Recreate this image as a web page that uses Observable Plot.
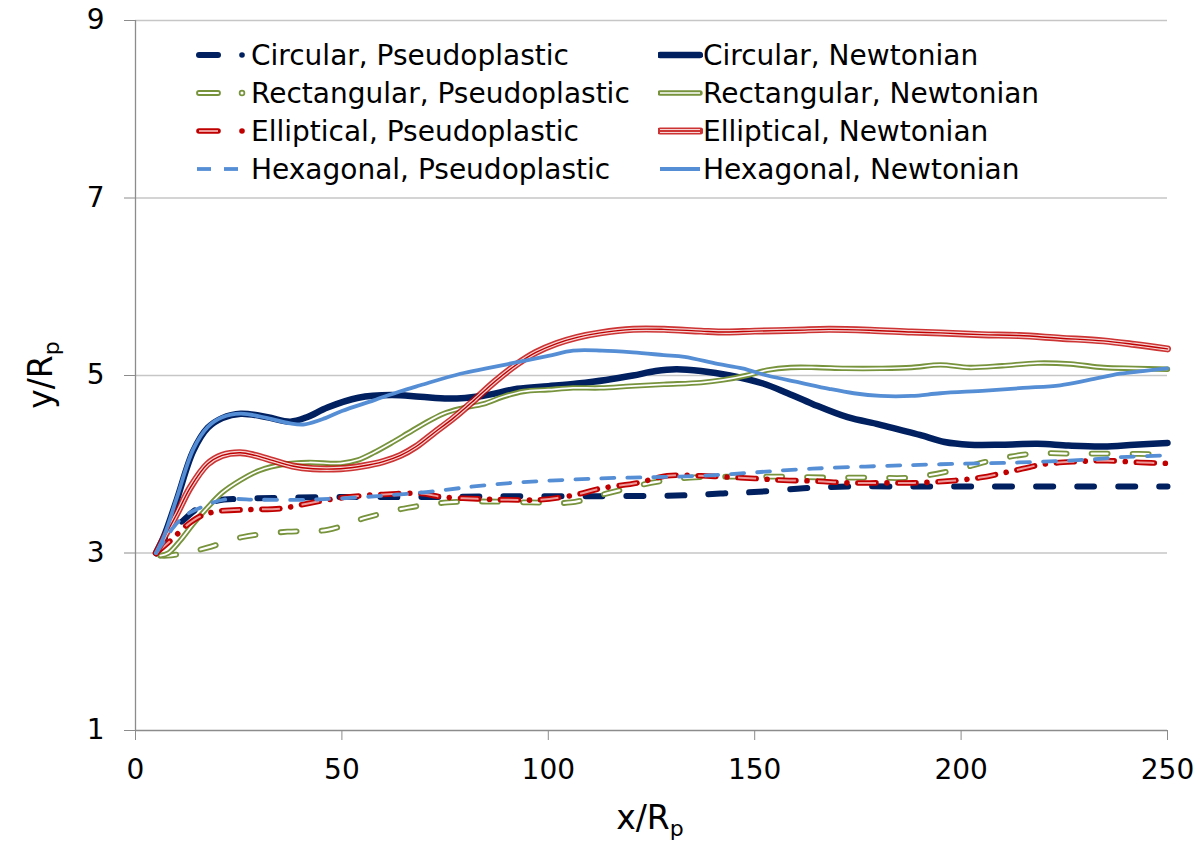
<!DOCTYPE html>
<html>
<head>
<meta charset="utf-8">
<script src="https://cdn.jsdelivr.net/npm/d3@7"></script>
<script src="https://cdn.jsdelivr.net/npm/@observablehq/plot@0.6"></script>
<style>
  html, body { margin: 0; padding: 0; background: #fff; }
  #wrap { position: relative; width: 1196px; height: 860px; font-family: "DejaVu Sans", Verdana, sans-serif; color: #000; }
  #chart svg { display: block; }
  .title { position: absolute; font-size: 33px; white-space: nowrap; }
  .title sub { font-size: 22px; vertical-align: -7px; line-height: 0; }
  #xtitle { left: 0; width: 1300px; top: 798px; text-align: center; }
  #ytitle { left: 40px; top: 375px; transform: translate(-50%, -50%) rotate(-90deg); }
  .lrow { position: absolute; height: 38px; display: flex; align-items: center; font-size: 28px; white-space: nowrap; }
  .lrow svg { flex: none; }
</style>
</head>
<body>
<div id="wrap">
  <div id="chart"></div>
  <div class="title" id="xtitle">x/R<sub>p</sub></div>
  <div class="title" id="ytitle">y/R<sub>p</sub></div>
  <div id="legendBox"></div>
</div>
<script>
// ---------- data ----------
const xTicks = [0, 50, 100, 150, 200, 250];
const yTicks = [1, 3, 5, 7, 9];
const yGrid = [3, 5, 7, 9];

const seriesNames = [
  "Circular, Pseudoplastic", "Circular, Newtonian",
  "Rectangular, Pseudoplastic", "Rectangular, Newtonian",
  "Elliptical, Pseudoplastic", "Elliptical, Newtonian",
  "Hexagonal, Pseudoplastic", "Hexagonal, Newtonian"
];

const xCircP = [5, 8, 11.6, 15, 19.9, 25, 33.4, 50, 69, 90, 112.6, 133, 141.7, 151, 161.8, 172.5, 185, 195, 210, 230, 250];
const yCircP = [3.0, 3.22, 3.37, 3.5, 3.59, 3.61, 3.62, 3.63, 3.63, 3.64, 3.64, 3.65, 3.67, 3.69, 3.73, 3.75, 3.75, 3.75, 3.75, 3.75, 3.75];

const xCircN = [5, 7, 10, 14, 17.5, 21, 25.5, 32, 37.5, 41.5, 46.5, 54, 62, 69, 76, 84, 92.5, 100, 107, 114, 120.5, 126, 131, 137, 144, 152, 158, 164, 172.5, 180, 185, 190, 196, 202, 210, 218.5, 226, 234.5, 242, 250];
const yCircN = [3.0, 3.2, 3.6, 4.15, 4.41, 4.52, 4.57, 4.53, 4.48, 4.53, 4.64, 4.75, 4.78, 4.76, 4.74, 4.77, 4.85, 4.88, 4.91, 4.95, 5.0, 5.05, 5.07, 5.05, 5.0, 4.91, 4.8, 4.68, 4.53, 4.45, 4.39, 4.33, 4.25, 4.22, 4.22, 4.23, 4.21, 4.2, 4.22, 4.24];

const xRectP = [6, 7.7, 12, 17.4, 26, 36.8, 46.5, 56, 66, 75.6, 85.3, 95.7, 105.4, 115, 124.8, 134.4, 148, 158, 167.6, 178, 187.7, 198, 208, 217.5, 227, 238, 250];
const yRectP = [2.97, 2.97, 3.0, 3.06, 3.18, 3.24, 3.26, 3.4, 3.51, 3.57, 3.58, 3.57, 3.57, 3.68, 3.79, 3.85, 3.86, 3.86, 3.85, 3.85, 3.85, 3.93, 4.05, 4.12, 4.12, 4.12, 4.11];

const xRectN = [6, 8, 11, 14, 17.4, 21, 25.4, 30, 35.9, 42, 49.7, 54, 57.7, 62, 66, 70, 74.6, 79, 84.3, 89, 94, 100, 106, 112.6, 120, 128, 137, 142.4, 148, 153, 158.7, 165, 172, 180.5, 188, 195, 202, 210, 218.5, 226.5, 234.5, 242, 250];
const yRectN = [2.97, 3.0, 3.15, 3.33, 3.51, 3.68, 3.82, 3.93, 4.0, 4.02, 4.01, 4.05, 4.13, 4.24, 4.35, 4.46, 4.57, 4.63, 4.68, 4.76, 4.82, 4.84, 4.86, 4.86, 4.88, 4.9, 4.92, 4.95, 5.0, 5.06, 5.09, 5.09, 5.08, 5.08, 5.09, 5.12, 5.09, 5.11, 5.14, 5.13, 5.09, 5.08, 5.07];

const xEllP = [5, 8.5, 12.6, 16, 19.9, 27.9, 35, 43, 51.3, 60, 69, 74.6, 82.8, 90, 98, 106, 113, 121.6, 128.8, 137, 141.7, 150, 157, 165, 172.5, 180.5, 188.5, 196.7, 204.7, 212, 220, 228, 235.5, 243.5, 250];
const yEllP = [3.0, 3.14, 3.32, 3.42, 3.47, 3.49, 3.5, 3.57, 3.63, 3.66, 3.67, 3.63, 3.61, 3.6, 3.6, 3.65, 3.73, 3.79, 3.87, 3.87, 3.86, 3.84, 3.82, 3.81, 3.79, 3.79, 3.79, 3.81, 3.85, 3.92, 4.0, 4.03, 4.04, 4.02, 4.01];

const xEllN = [5, 7, 10, 13.3, 17.4, 21, 25.4, 29, 33.4, 38, 43, 49.7, 55, 60, 64.2, 68, 72.2, 77, 82, 87, 92.5, 97, 102, 107, 112.6, 120.6, 128, 137, 143, 150, 160, 168, 178, 188, 195, 205, 214, 224, 234.5, 242, 250];
const yEllN = [3.0, 3.18, 3.44, 3.74, 4.0, 4.1, 4.13, 4.1, 4.04, 3.98, 3.95, 3.95, 3.98, 4.03, 4.1, 4.2, 4.35, 4.52, 4.72, 4.93, 5.13, 5.26, 5.36, 5.43, 5.48, 5.52, 5.52, 5.5, 5.49, 5.5, 5.51, 5.52, 5.51, 5.49, 5.48, 5.46, 5.45, 5.42, 5.39, 5.35, 5.3];

const xHexP = [5, 7, 9.2, 12, 15.7, 21.3, 30, 41.7, 55, 69, 88.4, 112.6, 137, 164, 195, 214, 230, 238.6, 250];
const yHexP = [3.0, 3.14, 3.29, 3.42, 3.51, 3.6, 3.6, 3.6, 3.63, 3.68, 3.78, 3.84, 3.87, 3.95, 4.0, 4.02, 4.05, 4.08, 4.1];

const xHexN = [5, 7, 10, 14, 17.5, 21, 25.5, 32, 37.5, 41, 46, 50, 57.7, 64, 69, 78.7, 85, 92.5, 100, 106, 113, 120.5, 128, 133, 141, 147, 153, 161, 168, 174, 180.5, 188, 195, 206, 215, 224, 231, 238.5, 244, 250];
const yHexN = [3.0, 3.2, 3.62, 4.17, 4.42, 4.53, 4.57, 4.52, 4.46, 4.45, 4.52, 4.6, 4.72, 4.82, 4.89, 5.02, 5.08, 5.15, 5.22, 5.28, 5.28, 5.26, 5.23, 5.21, 5.13, 5.08, 5.0, 4.92, 4.85, 4.8, 4.77, 4.77, 4.8, 4.83, 4.86, 4.89, 4.95, 5.02, 5.05, 5.08];

// ---------- styles ----------
const NAVY = "#002060", GREEN = "#77933C", RED = "#C00000", PINK = "#EE9A9A", BLUE = "#558ED5";

const rows = (xs, ys) => xs.map((x, i) => ({x, y: ys[i]}));

const seriesDefs = [
  {data: rows(xCircP, yCircP), layers: [{stroke: NAVY, strokeWidth: 6, strokeDasharray: "17,24", strokeLinecap: "round"}]},
  {data: rows(xCircN, yCircN), layers: [{stroke: NAVY, strokeWidth: 6.5}]},
  {data: rows(xRectP, yRectP), layers: [
    {stroke: GREEN, strokeWidth: 5.8, strokeDasharray: "16,25", strokeLinecap: "round"},
    {stroke: "#fff", strokeWidth: 2.2, strokeDasharray: "16,25", strokeLinecap: "round"}]},
  {data: rows(xRectN, yRectN), layers: [
    {stroke: GREEN, strokeWidth: 5.4},
    {stroke: "#fff", strokeWidth: 1.7}]},
  {data: rows(xEllP, yEllP), layers: [
    {stroke: RED, strokeWidth: 5.6, strokeDasharray: "18,11,0.01,11", strokeLinecap: "round"},
    {stroke: PINK, strokeWidth: 2, strokeDasharray: "18,22.01", strokeLinecap: "butt"}]},
  {data: rows(xEllN, yEllN), layers: [
    {stroke: RED, strokeWidth: 7, strokeOpacity: 0.8},
    {stroke: "#fff", strokeWidth: 3.8, strokeOpacity: 0.8},
    {stroke: RED, strokeWidth: 1.4}]},
  {data: rows(xHexP, yHexP), layers: [{stroke: BLUE, strokeWidth: 3.8, strokeDasharray: "13,13"}]},
  {data: rows(xHexN, yHexN), layers: [{stroke: BLUE, strokeWidth: 3.8}]}
];

const lineMarks = [];
for (const s of seriesDefs) {
  for (const L of s.layers) {
    lineMarks.push(Plot.line(s.data, {x: "x", y: "y", curve: "catmull-rom", strokeLinejoin: "round", ...L}));
  }
}

const AX = "#8c8c8c";
const chart = Plot.plot({
  width: 1196,
  height: 860,
  marginLeft: 135,
  marginRight: 29,
  marginTop: 20,
  marginBottom: 130,
  style: {fontFamily: "'DejaVu Sans', Verdana, sans-serif", fontSize: "28px", color: "#000", background: "#fff"},
  x: {domain: [0, 250]},
  y: {domain: [1, 9]},
  marks: [
    Plot.ruleY(yGrid, {stroke: "#c6c6c6", strokeWidth: 1.3}),
    Plot.ruleX([0], {stroke: AX, strokeWidth: 1.3}),
    Plot.ruleY([1], {stroke: AX, strokeWidth: 1.3}),
    Plot.axisX({ticks: xTicks, tickSize: 10, tickPadding: 19, stroke: AX, label: null, tickFormat: d => String(d)}),
    Plot.axisY({ticks: yTicks, tickSize: 11, tickPadding: 20, stroke: AX, label: null, tickFormat: d => String(d)}),
    ...lineMarks
  ]
});
document.getElementById("chart").appendChild(chart);

// ---------- legend ----------
const SVGNS = "http://www.w3.org/2000/svg";
function sampleSvg(kind, w) {
  const svg = document.createElementNS(SVGNS, "svg");
  svg.setAttribute("width", w); svg.setAttribute("height", 20);
  const add = (tag, attrs) => { const e = document.createElementNS(SVGNS, tag); for (const k in attrs) e.setAttribute(k, attrs[k]); svg.appendChild(e); };
  const y = 10;
  switch (kind) {
    case 0: add("line", {x1: 5, x2: 24, y1: y, y2: y, stroke: NAVY, "stroke-width": 6, "stroke-linecap": "round"});
            add("circle", {cx: 48, cy: y, r: 2.8, fill: NAVY}); break;
    case 2: add("line", {x1: 5, x2: 24, y1: y, y2: y, stroke: GREEN, "stroke-width": 5.8, "stroke-linecap": "round"});
            add("line", {x1: 5, x2: 24, y1: y, y2: y, stroke: "#fff", "stroke-width": 2.2, "stroke-linecap": "round"});
            add("circle", {cx: 48, cy: y, r: 2.4, fill: "#fff", stroke: GREEN, "stroke-width": 1.7}); break;
    case 4: add("line", {x1: 5, x2: 24, y1: y, y2: y, stroke: RED, "stroke-width": 5.6, "stroke-linecap": "round"});
            add("line", {x1: 5, x2: 24, y1: y, y2: y, stroke: PINK, "stroke-width": 2});
            add("circle", {cx: 48, cy: y, r: 2.8, fill: RED}); break;
    case 6: add("line", {x1: 3, x2: 17, y1: y, y2: y, stroke: BLUE, "stroke-width": 3.8});
            add("line", {x1: 30, x2: 44, y1: y, y2: y, stroke: BLUE, "stroke-width": 3.8}); break;
    case 1: add("line", {x1: 2, x2: 42, y1: y, y2: y, stroke: NAVY, "stroke-width": 6.5, "stroke-linecap": "round"}); break;
    case 3: add("line", {x1: 2, x2: 42, y1: y, y2: y, stroke: GREEN, "stroke-width": 5.4, "stroke-linecap": "round"});
            add("line", {x1: 2, x2: 42, y1: y, y2: y, stroke: "#fff", "stroke-width": 1.7}); break;
    case 5: add("line", {x1: 2, x2: 42, y1: y, y2: y, stroke: RED, "stroke-width": 7, "stroke-opacity": 0.8, "stroke-linecap": "round"});
            add("line", {x1: 2, x2: 42, y1: y, y2: y, stroke: "#fff", "stroke-width": 3.8, "stroke-opacity": 0.8});
            add("line", {x1: 2, x2: 42, y1: y, y2: y, stroke: RED, "stroke-width": 1.4}); break;
    case 7: add("line", {x1: 2, x2: 42, y1: y, y2: y, stroke: BLUE, "stroke-width": 3.8}); break;
  }
  return svg;
}
const box = document.getElementById("legendBox");
seriesNames.forEach((name, i) => {
  const col = i % 2, row = Math.floor(i / 2);
  const div = document.createElement("div");
  div.className = "lrow";
  div.style.left = (col === 0 ? 194 : 658) + "px";
  div.style.top = (36 + row * 38) + "px";
  div.appendChild(sampleSvg(i, col === 0 ? 57 : 45));
  const span = document.createElement("span");
  span.textContent = name;
  div.appendChild(span);
  box.appendChild(div);
});
</script>
</body>
</html>
